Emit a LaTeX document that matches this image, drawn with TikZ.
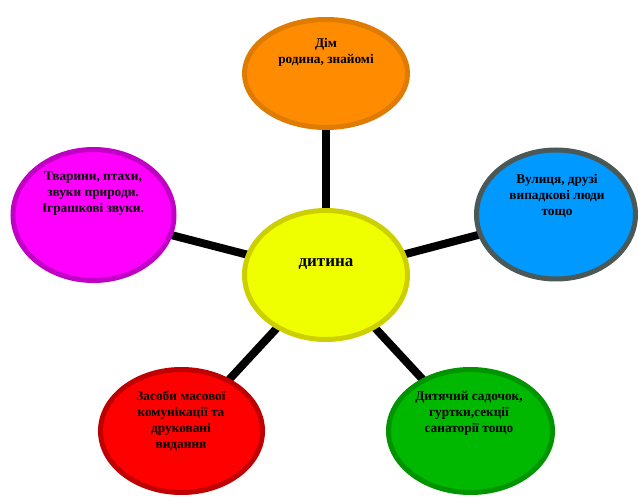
\documentclass[tikz,border=0pt]{standalone}
\usepackage{fontspec}
\setmainfont{Liberation Serif}
\usetikzlibrary{shapes.geometric}
\pgfdeclarelayer{bg}
\pgfsetlayers{bg,main}
\definecolor{orF}{HTML}{FF8C00}\definecolor{orD}{HTML}{DE7B00}
\definecolor{blF}{HTML}{0099FF}\definecolor{blD}{HTML}{4B5858}
\definecolor{mgF}{HTML}{FF00FF}\definecolor{mgD}{HTML}{C000C4}
\definecolor{ylF}{HTML}{F0FF00}\definecolor{ylD}{HTML}{CCD000}
\definecolor{rdF}{HTML}{FF0000}\definecolor{rdD}{HTML}{C00000}
\definecolor{grF}{HTML}{00B800}\definecolor{grD}{HTML}{009400}
\begin{document}
\begin{tikzpicture}[x=1pt,y=-1pt,
  bubble/.style={ellipse, line width=5pt, inner sep=0pt},
  lbl/.style={align=center, font=\bfseries\fontsize{13.3}{16}\selectfont, text=black},
  link/.style={line width=8pt, black}]
\useasboundingbox (0,0) rectangle (638,497);
\node[bubble, draw=orD, fill=orF, minimum width=163pt, minimum height=108pt] (home) at (326,73.5) {};
\node[bubble, draw=blD, fill=blF, minimum width=159pt, minimum height=129pt] (street) at (556,214.5) {};
\node[bubble, draw=mgD, fill=mgF, minimum width=161pt, minimum height=131pt] (animals) at (93.5,215) {};
\node[bubble, draw=ylD, fill=ylF, minimum width=163pt, minimum height=129pt] (child) at (326,275) {};
\node[bubble, draw=rdD, fill=rdF, minimum width=162pt, minimum height=123pt] (media) at (181.5,431) {};
\node[bubble, draw=grD, fill=grF, minimum width=164pt, minimum height=123pt] (kinder) at (470.5,431) {};
\begin{pgfonlayer}{bg}
\fill[white] (0,0) rectangle (638,497);
\draw[link] (child.center) -- (home.center);
\draw[link] (child.center) -- (street.center);
\draw[link] (child.center) -- (animals.center);
\draw[link] (child.center) -- (media.center);
\draw[link] (child.center) -- (kinder.center);
\end{pgfonlayer}
\node[lbl] (thome) at (326,52) {Дім\\родина, знайомі};
\node[lbl] (tstreet) at (557,196) {Вулиця, друзі\\випадкові люди\\тощо};
\node[lbl] (tanimals) at (93,194) {Тварини, птахи,\\звуки природи.\\Іграшкові звуки.};
\node[lbl, font=\bfseries\fontsize{17}{19}\selectfont] (tchild) at (326,264) {дитина};
\node[lbl] (tmedia) at (181,421) {Засоби масової\\комунікації та\\друковані\\видання};
\node[lbl] (tkinder) at (469,413) {Дитячий садочок,\\гуртки,секції\\санаторії тощо};
\end{tikzpicture}
\end{document}
